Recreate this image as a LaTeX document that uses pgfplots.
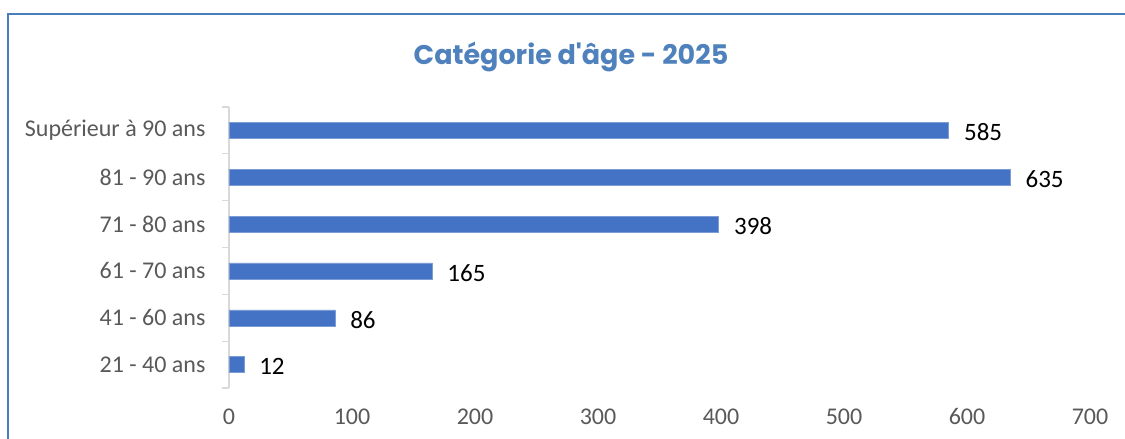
\documentclass[border=0pt]{standalone}
\usepackage{fontspec}
\setmainfont{Carlito}
\newfontfamily\titlefont{Poppins}
\usepackage{pgfplots}
\pgfplotsset{compat=1.18}
\definecolor{barblue}{HTML}{4472C4}
\definecolor{titleblue}{HTML}{4F81BD}
\definecolor{framec}{HTML}{4A7EBB}
\definecolor{ticklab}{HTML}{595959}
\definecolor{axisgray}{HTML}{D9D9D9}
\begin{document}
\begin{tikzpicture}[x=1pt,y=1pt]
\useasboundingbox (0,0) rectangle (1125,439);
\draw[framec, line width=2pt] (8,0) -- (8,425) -- (1125,425);
\node[titleblue, font=\titlefont\bfseries\fontsize{27}{30}\selectfont] at (571,382) {Catégorie d'âge - 2025};
\begin{axis}[
  at={(229pt,51pt)}, anchor=south west,
  scale only axis, width=861pt, height=281pt,
  xbar, bar width=16pt,
  xmin=0, xmax=700, ymin=-0.5, ymax=5.5,
  xtick={0,100,...,700},
  ytick={0,1,2,3,4,5},
  yticklabels={21 - 40 ans,41 - 60 ans,61 - 70 ans,71 - 80 ans,81 - 90 ans,Supérieur à 90 ans},
  minor ytick={-0.5,0.5,...,5.5},
  axis lines*=left,
  x axis line style={draw=none},
  y axis line style={draw=axisgray, line width=1.2pt},
  xtick style={draw=none},
  major tick length=0pt,
  minor tick length=7pt,
  minor tick style={draw=axisgray, line width=1.2pt},
  tick align=outside,
  /pgf/number format/assume math mode=true,
  ticklabel style={font=\fontsize{24}{27}\selectfont, text=ticklab},
  xticklabel style={yshift=-17pt},
  yticklabel style={xshift=-20pt},
  nodes near coords,
  every node near coord/.append style={font=\fontsize{25}{28}\selectfont, text=black, xshift=12pt, yshift=-2pt},
]
\addplot[fill=barblue, draw=barblue!70!white] coordinates {
  (12,0) (86,1) (165,2) (398,3) (635,4) (585,5)
};
\end{axis}
\end{tikzpicture}
\end{document}
